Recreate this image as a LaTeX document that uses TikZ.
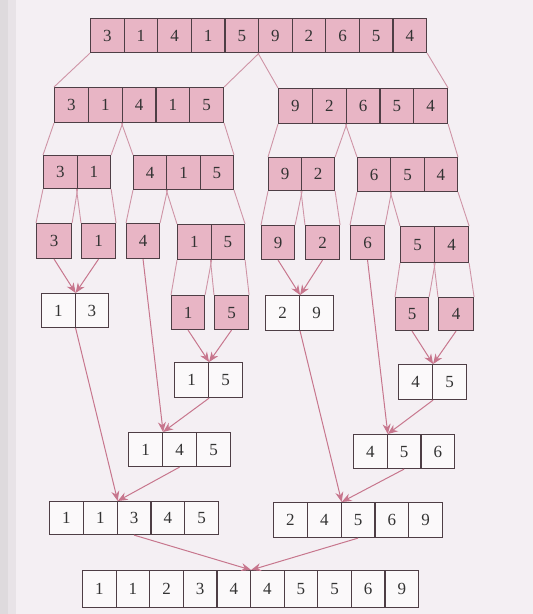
\documentclass[tikz,border=0pt]{standalone}
\usepackage{fontspec}
\setmainfont{Liberation Serif}
\usetikzlibrary{arrows.meta}
\definecolor{bgc}{HTML}{F4EFF3}
\definecolor{pinkfill}{HTML}{E8B5C5}
\definecolor{boxline}{HTML}{4E3E45}
\definecolor{splitc}{HTML}{CF94A6}
\definecolor{arrowc}{HTML}{C7768D}
\tikzset{
  cellbox/.style={draw=boxline, line width=1.1pt, inner sep=0pt, anchor=north west,
    font=\fontsize{17}{20}\selectfont, text=black!80},
  unsorted/.style={fill=pinkfill},
  sorted/.style={fill=white!60!bgc},
  splitline/.style={draw=splitc, line width=0.9pt},
  mergearrow/.style={draw=arrowc, line width=1pt, -{Stealth[length=10pt,width=8pt]}, shorten <=0pt},
}
% name, xleft, ytop, cellwidth, height, list, style
\newcommand\cellarr[7]{%
  \foreach \v [count=\i] in {#6} {
    \node[cellbox, #7, minimum width=#4pt, minimum height=#5pt] (#1-\i) at ({#2+(\i-1)*#4}, #3) {\v};
  }%
}
\begin{document}
\begin{tikzpicture}[x=1pt, y=-1pt]
\useasboundingbox (0,0) rectangle (533,614);
\fill[bgc] (0,0) rectangle (533,614);
\fill[black!9!bgc] (0,0) rectangle (8,614);
\fill[black!5!bgc] (8,0) rectangle (16,614);

% level 1
\cellarr{T}{90}{18}{33.6}{34}{3,1,4,1,5,9,2,6,5,4}{unsorted}
% level 2
\cellarr{L}{54}{87}{33.8}{35}{3,1,4,1,5}{unsorted}
\cellarr{R}{278}{88}{33.8}{35}{9,2,6,5,4}{unsorted}
% level 3
\cellarr{LL}{43}{155}{33.5}{33}{3,1}{unsorted}
\cellarr{LR}{133}{155}{33.3}{34}{4,1,5}{unsorted}
\cellarr{RL}{268}{157}{33}{33}{9,2}{unsorted}
\cellarr{RR}{357}{157}{33.3}{34}{6,5,4}{unsorted}
% level 4
\cellarr{a}{36}{223}{35}{35}{3}{unsorted}
\cellarr{b}{81}{223}{34}{35}{1}{unsorted}
\cellarr{c}{126}{223}{33}{35}{4}{unsorted}
\cellarr{d}{177}{224}{33.5}{35}{1,5}{unsorted}
\cellarr{e}{261}{225}{33}{34}{9}{unsorted}
\cellarr{f}{305}{225}{34}{34}{2}{unsorted}
\cellarr{g}{350}{225}{34}{34}{6}{unsorted}
\cellarr{h}{400}{226}{34}{36}{5,4}{unsorted}
% level 5
\cellarr{i}{171}{295}{33}{34}{1}{unsorted}
\cellarr{j}{214}{295}{34}{34}{5}{unsorted}
\cellarr{k}{395}{297}{33}{33}{5}{unsorted}
\cellarr{l}{438}{297}{35}{33}{4}{unsorted}
% merged
\cellarr{m}{41}{293}{33.5}{34}{1,3}{sorted}
\cellarr{n}{265}{295}{34}{35}{2,9}{sorted}
\cellarr{o}{174}{362}{34}{35}{1,5}{sorted}
\cellarr{p}{398}{364}{34}{35}{4,5}{sorted}
\cellarr{q}{128}{432}{34}{34}{1,4,5}{sorted}
\cellarr{r}{353}{434}{33.7}{34}{4,5,6}{sorted}
\cellarr{s}{49}{501}{33.8}{33}{1,1,3,4,5}{sorted}
\cellarr{t}{273}{502}{33.8}{35}{2,4,5,6,9}{sorted}
\cellarr{u}{82}{570}{33.6}{37}{1,1,2,3,4,4,5,5,6,9}{sorted}

% split lines
\begin{scope}[every path/.style={splitline}]
\draw (T-1.south west) -- (L-1.north west);
\draw (T-5.south east) -- (L-5.north east);
\draw (T-6.south west) -- (R-1.north west);
\draw (T-10.south east) -- (R-5.north east);
\draw (L-1.south west) -- (LL-1.north west);
\draw (L-2.south east) -- (LL-2.north east);
\draw (L-3.south west) -- (LR-1.north west);
\draw (L-5.south east) -- (LR-3.north east);
\draw (R-1.south west) -- (RL-1.north west);
\draw (R-2.south east) -- (RL-2.north east);
\draw (R-3.south west) -- (RR-1.north west);
\draw (R-5.south east) -- (RR-3.north east);
\draw (LL-1.south west) -- (a-1.north west);
\draw (LL-1.south east) -- (a-1.north east);
\draw (LL-2.south west) -- (b-1.north west);
\draw (LL-2.south east) -- (b-1.north east);
\draw (LR-1.south west) -- (c-1.north west);
\draw (LR-1.south east) -- (c-1.north east);
\draw (LR-2.south west) -- (d-1.north west);
\draw (LR-3.south east) -- (d-2.north east);
\draw (RL-1.south west) -- (e-1.north west);
\draw (RL-1.south east) -- (e-1.north east);
\draw (RL-2.south west) -- (f-1.north west);
\draw (RL-2.south east) -- (f-1.north east);
\draw (RR-1.south west) -- (g-1.north west);
\draw (RR-1.south east) -- (g-1.north east);
\draw (RR-2.south west) -- (h-1.north west);
\draw (RR-3.south east) -- (h-2.north east);
\draw (d-1.south west) -- (i-1.north west);
\draw (d-1.south east) -- (i-1.north east);
\draw (d-2.south west) -- (j-1.north west);
\draw (d-2.south east) -- (j-1.north east);
\draw (h-1.south west) -- (k-1.north west);
\draw (h-1.south east) -- (k-1.north east);
\draw (h-2.south west) -- (l-1.north west);
\draw (h-2.south east) -- (l-1.north east);
\end{scope}

% merge arrows
\draw[mergearrow] (a-1.south) -- (m-1.north east);
\draw[mergearrow] (b-1.south) -- (m-1.north east);
\draw[mergearrow] (e-1.south) -- (n-1.north east);
\draw[mergearrow] (f-1.south) -- (n-1.north east);
\draw[mergearrow] (i-1.south) -- (o-1.north east);
\draw[mergearrow] (j-1.south) -- (o-1.north east);
\draw[mergearrow] (k-1.south) -- (p-1.north east);
\draw[mergearrow] (l-1.south) -- (p-1.north east);
\draw[mergearrow] (c-1.south) -- (q-1.north east);
\draw[mergearrow] (o-1.south east) -- (q-1.north east);
\draw[mergearrow] (g-1.south) -- (r-1.north east);
\draw[mergearrow] (p-1.south east) -- (r-1.north east);
\draw[mergearrow] (m-1.south east) -- (s-2.north east);
\draw[mergearrow] (q-2.south) -- (s-2.north east);
\draw[mergearrow] (n-1.south east) -- (t-2.north east);
\draw[mergearrow] (r-2.south) -- (t-2.north east);
\draw[mergearrow] (s-3.south) -- (u-5.north east);
\draw[mergearrow] (t-3.south) -- (u-5.north east);
\end{tikzpicture}
\end{document}
